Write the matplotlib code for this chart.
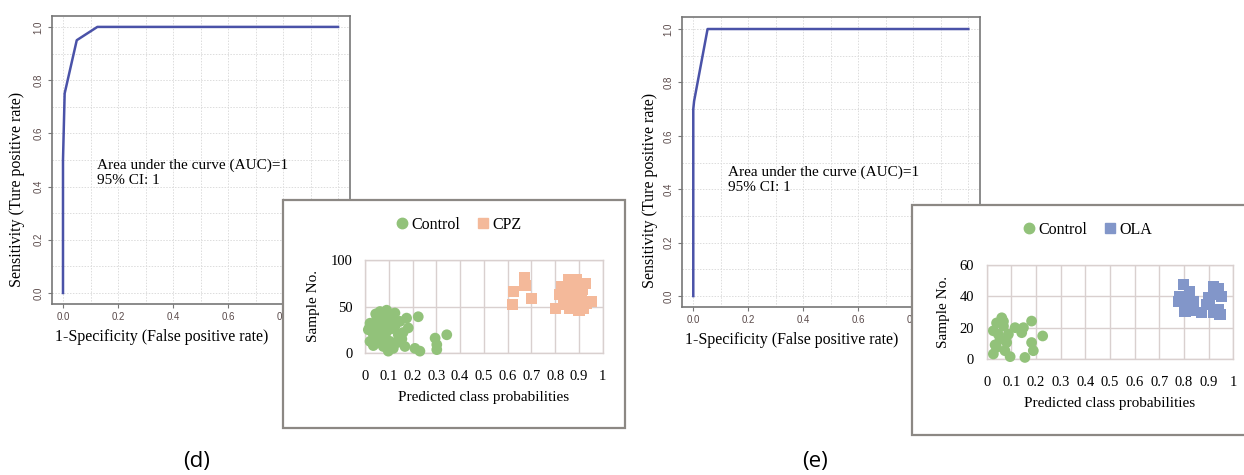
import matplotlib
matplotlib.use("Agg")
import matplotlib.pyplot as plt
from matplotlib.patches import Rectangle
from matplotlib.lines import Line2D

W, H = 1244, 475

# ROC curves
roc_d_fpr = [0.0, 0.0, 0.006, 0.05, 0.125, 1.0]
roc_d_tpr = [0.0, 0.5, 0.75, 0.95, 1.0, 1.0]
roc_e_fpr = [0.0, 0.0, 0.003, 0.052, 0.12, 1.0]
roc_e_tpr = [0.0, 0.70, 0.73, 1.0, 1.0, 1.0]

# inset (d): predicted class probabilities
ctrl_d_x = [0.063, 0.091, 0.126, 0.05, 0.021, 0.014, 0.035, 0.05, 0.077, 0.098,
            0.105, 0.133, 0.168, 0.21, 0.231, 0.182, 0.175, 0.224, 0.147, 0.126,
            0.091, 0.063, 0.042, 0.295, 0.302, 0.302, 0.344, 0.077, 0.112, 0.021,
            0.05, 0.14, 0.119, 0.07, 0.03, 0.1, 0.085, 0.06, 0.115, 0.155,
            0.045, 0.08, 0.11, 0.065, 0.095, 0.035, 0.16, 0.02]
ctrl_d_y = [44.6, 46, 43, 37.5, 32, 25, 20, 11, 7, 2,
            12.5, 11, 7, 5, 2, 27, 37.5, 39, 34, 28.6,
            23, 28.6, 27, 16, 9, 3.6, 19.6, 32, 36, 12.5,
            16, 19.6, 5, 40, 30, 30, 18, 22, 42, 15,
            42, 25, 26, 15, 38, 8, 22, 28]
cpz_x = [0.62, 0.624, 0.67, 0.673, 0.70, 0.80, 0.82, 0.828, 0.856, 0.89,
         0.926, 0.912, 0.933, 0.954, 0.90, 0.862, 0.85, 0.877, 0.905, 0.835,
         0.884, 0.87, 0.919, 0.86, 0.895, 0.845, 0.915, 0.88, 0.865, 0.9]
cpz_y = [51.8, 66, 81, 73, 59, 48, 62.5, 71, 78.6, 78.6,
         75, 62.5, 53.6, 55, 46, 48, 59, 66, 70, 52,
         55, 73, 48, 66, 58, 57, 68, 50, 62, 74]

# inset (e)
ctrl_e_x = [0.061, 0.04, 0.027, 0.068, 0.088, 0.054, 0.04, 0.027, 0.074, 0.095,
            0.115, 0.142, 0.149, 0.182, 0.182, 0.189, 0.155, 0.227, 0.081, 0.047,
            0.068, 0.034]
ctrl_e_y = [26.3, 23, 18, 21, 15.8, 12.6, 7.4, 3.2, 5.3, 1.5,
            20, 16.8, 20, 24.2, 10.5, 5.3, 1, 14.7, 10.5, 15.8,
            24, 9]
ola_x = [0.797, 0.824, 0.784, 0.838, 0.804, 0.824, 0.919, 0.939, 0.953, 0.899,
         0.892, 0.872, 0.939, 0.946, 0.919, 0.777, 0.81, 0.926, 0.905, 0.83]
ola_y = [47.4, 43, 40, 36.8, 30.5, 34.7, 46.3, 45, 40, 39,
         34.7, 29.5, 31.6, 28.4, 29.5, 36.8, 40, 41, 36, 31]

GREEN = "#92c27a"
SALMON = "#f4b99a"
BLUE = "#8296c9"
LINE = "#4a52a8"
SERIF = "Liberation Serif"

fig = plt.figure(figsize=(W / 100, H / 100), dpi=100)


def px_axes(x0, y0, x1, y1):
    return fig.add_axes([x0 / W, 1 - y1 / H, (x1 - x0) / W, (y1 - y0) / H])


def roc_panel(box, xlim, ylim, fpr, tpr, ty, xlab_pos, ylab_pos):
    ax = px_axes(*box)
    ax.plot(fpr, tpr, color=LINE, lw=1.8)
    ax.set_xlim(*xlim)
    ax.set_ylim(*ylim)
    ticks = [0, 0.2, 0.4, 0.6, 0.8, 1.0]
    labels = ["0.0", "0.2", "0.4", "0.6", "0.8", "1.0"]
    ax.set_xticks(ticks)
    ax.set_yticks(ticks)
    ax.set_xticks([0.1, 0.3, 0.5, 0.7, 0.9], minor=True)
    ax.set_yticks([0.1, 0.3, 0.5, 0.7, 0.9], minor=True)
    ax.tick_params(which="minor", length=0)
    ax.tick_params(which="major", length=3, color="#777777", labelsize=7,
                   labelcolor="#5a4a4a", pad=3)
    # the 1.0 label on x sits fully under the inset box
    ax.set_xticklabels(labels[:-1] + [""], fontfamily="Liberation Sans")
    ax.set_yticklabels(labels, fontfamily="Liberation Sans", rotation=90, va="center")
    ax.grid(True, which="both", color="#dcdcdc", ls=(0, (1.5, 1.5)), lw=0.7)
    ax.set_axisbelow(True)
    for s in ax.spines.values():
        s.set_color("#777777")
        s.set_linewidth(1.2)
    fig.text(xlab_pos[0] / W, 1 - xlab_pos[1] / H, "1-Specificity (False positive rate)",
             fontfamily=SERIF, fontsize=11.5, ha="center", va="center")
    fig.text(ylab_pos[0] / W, 1 - ylab_pos[1] / H, "Sensitivity (Ture positive rate)",
             fontfamily=SERIF, fontsize=11.5, ha="center", va="center", rotation=90)
    ax.text(0.125, ty, "Area under the curve (AUC)=1\n95% CI: 1", fontfamily=SERIF,
            fontsize=11, va="center", ha="left", linespacing=1.2)
    return ax


roc_panel((52, 16, 350, 304), (-0.04, 1.0436), (-0.0414, 1.041), roc_d_fpr, roc_d_tpr, 0.45,
          (162, 337), (17, 189))
roc_panel((682, 17, 980, 307), (-0.041, 1.0425), (-0.041, 1.045), roc_e_fpr, roc_e_tpr, 0.435,
          (792, 340), (650, 190))


def inset(box, inner, ymax, ystep, xc, yc, ox, oy, label2, col2, legend_c, ylab_x, xlab_y):
    bx0, by0, bx1, by1 = box
    fig.patches.append(Rectangle((bx0 / W, 1 - by1 / H), (bx1 - bx0) / W, (by1 - by0) / H,
                                 transform=fig.transFigure, facecolor="white",
                                 edgecolor="#8c8884", lw=1.6, zorder=5))
    ax = px_axes(*inner)
    ax.set_zorder(6)
    ax.scatter(xc, yc, s=60, marker="o", color=GREEN, edgecolors="none", zorder=3, clip_on=False)
    ax.scatter(ox, oy, s=65, marker="s", color=col2, edgecolors="none", zorder=3, clip_on=False)
    ax.set_xlim(0, 1)
    ax.set_ylim(0, ymax)
    ax.set_xticks([i / 10 for i in range(11)])
    ax.set_xticklabels(["0", "0.1", "0.2", "0.3", "0.4", "0.5", "0.6", "0.7", "0.8", "0.9", "1"])
    ax.set_yticks(list(range(0, ymax + 1, ystep)))
    ax.tick_params(axis="x", length=0, labelsize=10.5, pad=12)
    ax.tick_params(axis="y", length=0, labelsize=10.5, pad=9)
    for lab in ax.get_xticklabels() + ax.get_yticklabels():
        lab.set_fontfamily(SERIF)
    ax.grid(True, color="#d9d0cf", lw=1.0)
    ax.set_axisbelow(True)
    for s in ax.spines.values():
        s.set_color("#d9d0cf")
        s.set_linewidth(1.0)
    ax.patch.set_alpha(0)
    fig.text(ylab_x / W, 1 - (inner[1] + inner[3]) / 2 / H, "Sample No.", rotation=90,
             fontfamily=SERIF, fontsize=11, ha="center", va="center", zorder=7)
    fig.text((inner[0] + inner[2]) / 2 / W, 1 - xlab_y / H, "Predicted class probabilities",
             fontfamily=SERIF, fontsize=11, ha="center", va="center", zorder=7)
    handles = [Line2D([], [], ls="none", marker="o", ms=7.5, color=GREEN, label="Control"),
               Line2D([], [], ls="none", marker="s", ms=7.5, color=col2, label=label2)]
    leg = fig.legend(handles=handles, loc="center", bbox_to_anchor=(legend_c[0] / W, 1 - legend_c[1] / H),
                     ncol=2, frameon=False, prop={"family": SERIF, "size": 11.5},
                     handletextpad=0.0, columnspacing=0.8, handlelength=1.2)
    leg.set_zorder(8)


inset((283, 200, 625, 428), (365, 260, 602.7, 353), 100, 50,
      ctrl_d_x, ctrl_d_y, cpz_x, cpz_y, "CPZ", SALMON, (457, 225), 313, 398)
inset((912, 205, 1252, 435), (986.7, 265, 1233.3, 359), 60, 20,
      ctrl_e_x, ctrl_e_y, ola_x, ola_y, "OLA", BLUE, (1086, 230), 944, 404)

fig.text(197 / W, 1 - 462 / H, "(d)", fontfamily="Open Sans", fontsize=16, ha="center", va="center")
fig.text(815 / W, 1 - 462 / H, "(e)", fontfamily="Open Sans", fontsize=16, ha="center", va="center")

fig.savefig("out.png", dpi=100, facecolor="white")
